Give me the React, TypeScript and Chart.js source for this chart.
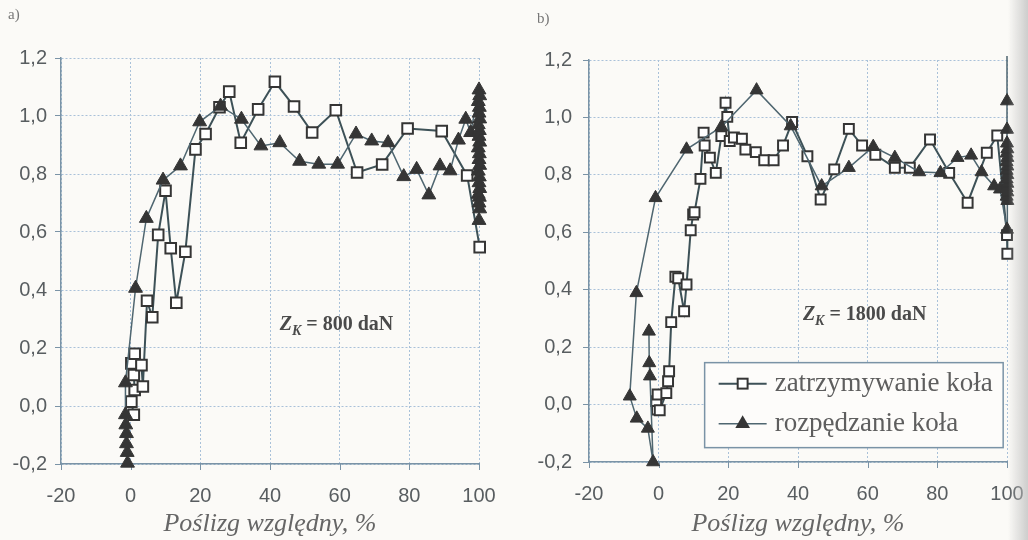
import React, { useEffect, useRef } from "react";
import { Chart, registerables } from "chart.js";

Chart.register(...registerables);

// ---------- shared axis data ----------
const X_TICKS = [-20, 0, 20, 40, 60, 80, 100];
const Y_TICKS = [-0.2, 0, 0.2, 0.4, 0.6, 0.8, 1.0, 1.2];
const X_TITLE = "Poślizg względny, %";
const SERIES_NAMES = ["zatrzymywanie koła", "rozpędzanie koła"];
const PANEL_LABELS = ["a)", "b)"];
const LOAD_TEXT = ["= 800 daN", "= 1800 daN"];

// ---------- panel a) Z_K = 800 daN ----------
// zatrzymywanie koła (open squares)
const aBrakeX = [0.9, 0.2, 1.15, 0.9, 0.2, 1.15, 3.1, 3.5, 4.7, 6.2, 7.9, 10.0, 11.5, 13.1, 15.7, 18.6, 21.5, 25.5, 28.3, 31.6, 36.6, 41.4, 46.9, 52.1, 58.9, 65.0, 72.2, 79.5, 89.3, 96.6, 100.2];
const aBrakeY = [-0.03, 0.015, 0.055, 0.107, 0.147, 0.18, 0.141, 0.067, 0.363, 0.306, 0.59, 0.742, 0.544, 0.356, 0.532, 0.885, 0.938, 1.03, 1.084, 0.908, 1.023, 1.118, 1.033, 0.943, 1.02, 0.805, 0.833, 0.957, 0.948, 0.795, 0.548];
// rozpędzanie koła (filled triangles)
const aSpinX = [-0.9, -1.0, -1.2, -1.2, -1.4, -1.5, -1.5, 1.4, 4.5, 9.3, 14.3, 19.8, 25.8, 31.8, 37.4, 42.8, 48.5, 54.0, 59.4, 64.7, 69.2, 73.9, 78.4, 82.1, 85.6, 88.8, 91.7, 94.1, 96.2, 97.6,
  100.0, 100.2, 99.8, 100.1, 100.0, 100.2, 99.8, 100.1, 100.0, 100.2, 99.8, 100.1, 100.0, 100.2, 99.8, 100.1, 100.0, 100.2, 99.8, 100.1, 100.0, 100.2, 100.0];
const aSpinY = [-0.197, -0.16, -0.13, -0.095, -0.065, -0.03, 0.08, 0.406, 0.647, 0.779, 0.828, 0.98, 1.034, 0.989, 0.897, 0.908, 0.844, 0.834, 0.834, 0.938, 0.914, 0.908, 0.791, 0.816, 0.728, 0.828, 0.811, 0.917, 0.989, 0.943,
  1.09, 1.07, 1.05, 1.03, 1.01, 0.99, 0.97, 0.95, 0.93, 0.91, 0.89, 0.87, 0.85, 0.83, 0.81, 0.79, 0.77, 0.75, 0.73, 0.72, 0.7, 0.68, 0.64];

// ---------- panel b) Z_K = 1800 daN ----------
const bBrakeX = [-0.5, -0.7, -0.3, 0.3, 2.2, 2.7, 3.0, 3.6, 4.8, 5.6, 7.3, 8.0, 9.2, 9.9, 10.3, 12.0, 12.9, 13.2, 14.7, 16.4, 18.0, 19.2, 19.7, 20.4, 21.6, 23.9, 24.9, 27.9, 30.3, 33.0, 35.7, 38.3, 42.7, 46.5, 50.4, 54.6, 58.4, 62.2, 67.8, 72.1, 77.9, 83.4, 88.7, 94.2, 97.2, 100.0, 100.1];
const bBrakeY = [-0.017, 0.012, 0.035, -0.02, 0.04, 0.081, 0.116, 0.287, 0.445, 0.44, 0.325, 0.418, 0.607, 0.662, 0.67, 0.786, 0.947, 0.902, 0.86, 0.807, 0.935, 1.051, 1.002, 0.918, 0.93, 0.926, 0.888, 0.879, 0.851, 0.851, 0.902, 0.984, 0.865, 0.714, 0.819, 0.96, 0.902, 0.87, 0.825, 0.825, 0.923, 0.807, 0.703, 0.877, 0.937, 0.59, 0.525];
const bSpinX = [-2.8, -2.7, -2.5, -1.6, -3.1, -6.3, -8.3, -6.4, -0.9, 8.0, 18.0, 28.1, 37.9, 46.8, 54.6, 61.6, 67.8, 74.8, 80.9, 85.8, 89.7, 92.7, 96.3, 98.0,
  100.0, 100.1, 99.9, 100.1, 99.9, 100.1, 99.9, 100.1, 99.9, 100.1, 99.9, 100.1, 99.9, 100.1, 100.0, 100.0, 100.0, 100.0];
const bSpinY = [0.255, 0.145, 0.099, -0.2, -0.083, -0.048, 0.029, 0.389, 0.72, 0.889, 0.967, 1.095, 0.97, 0.761, 0.825, 0.898, 0.86, 0.81, 0.807, 0.86, 0.868, 0.81, 0.761, 0.75,
  0.61, 0.71, 0.725, 0.74, 0.755, 0.77, 0.785, 0.8, 0.815, 0.83, 0.845, 0.86, 0.875, 0.89, 0.91, 0.958, 1.057, 1.3];

// ---------- styles ----------
const BRAKE_LINE = "#3d5157";
const SPIN_LINE = "#4f6670";
const MARK_DARK = "#353535";
const GRID = "#a9c1d9";
const AXIS = "#7a93a6";
const TICK_TEXT = "#585d60";
const TEXT = "#5e5e5e";

const toPts = (xs: number[], ys: number[]) => xs.map((x, i) => ({ x, y: ys[i] }));

type Panel = {
  idx: number;
  brake: { x: number; y: number }[];
  spin: { x: number; y: number }[];
  pad: { left: number; right: number; top: number };
  yAxisW: number;
  xAxisH: number;
  yTickPad: number;
  sqR: number;
  triR: number;
  annot: { x: number; y: number };
  legend?: { x0: number; x1: number; y0: number; y1: number };
  labelPos: { x: number; y: number };
};

const panels: Panel[] = [
  {
    idx: 0,
    brake: toPts(aBrakeX, aBrakeY),
    spin: toPts(aSpinX, aSpinY),
    pad: { left: 0, right: 35, top: 58 },
    yAxisW: 61,
    xAxisH: 76,
    yTickPad: 8,
    sqR: 7.5,
    triR: 8,
    annot: { x: 42.8, y: 0.262 },
    labelPos: { x: 8, y: 15 },
  },
  {
    idx: 1,
    brake: toPts(bBrakeX, bBrakeY),
    spin: toPts(bSpinX, bSpinY),
    pad: { left: 0, right: 21, top: 60 },
    yAxisW: 75,
    xAxisH: 78,
    yTickPad: 11,
    sqR: 7,
    triR: 7.5,
    annot: { x: 41.4, y: 0.296 },
    legend: { x0: 13.2, x1: 98.9, y0: 0.146, y1: -0.15 },
    labelPos: { x: 23, y: 19 },
  },
];

function drawTri(ctx: CanvasRenderingContext2D, x: number, y: number, r: number) {
  ctx.beginPath();
  ctx.moveTo(x, y - r);
  ctx.lineTo(x + r * 0.866, y + r * 0.5);
  ctx.lineTo(x - r * 0.866, y + r * 0.5);
  ctx.closePath();
  ctx.fillStyle = MARK_DARK;
  ctx.fill();
}

function makeDecor(p: Panel) {
  return {
    id: "decor" + p.idx,
    beforeDatasetsDraw(chart: any) {
      const ctx: CanvasRenderingContext2D = chart.ctx;
      const xs = chart.scales.x;
      const bottom = chart.chartArea.bottom;
      ctx.save();
      ctx.strokeStyle = AXIS;
      ctx.lineWidth = 1;
      X_TICKS.forEach((v) => {
        const px = Math.round(xs.getPixelForValue(v)) + 0.5;
        ctx.beginPath();
        ctx.moveTo(px, bottom);
        ctx.lineTo(px, bottom + 6);
        ctx.stroke();
      });
      ctx.restore();
    },
    afterDatasetsDraw(chart: any) {
      const ctx: CanvasRenderingContext2D = chart.ctx;
      const xs = chart.scales.x;
      const ys = chart.scales.y;
      // annotation Z_K = ... daN
      ctx.save();
      const ax = xs.getPixelForValue(p.annot.x);
      const ay = ys.getPixelForValue(p.annot.y);
      ctx.fillStyle = "#4a4a4a";
      ctx.textBaseline = "alphabetic";
      ctx.textAlign = "left";
      ctx.font = 'bold italic 20px "Liberation Serif"';
      ctx.fillText("Z", ax, ay);
      let cx = ax + ctx.measureText("Z").width;
      ctx.font = 'bold italic 14px "Liberation Serif"';
      ctx.fillText("K", cx, ay + 5);
      cx += ctx.measureText("K").width + 5;
      ctx.font = 'bold 20px "Liberation Serif"';
      ctx.fillText(LOAD_TEXT[p.idx], cx, ay);
      ctx.restore();

      // panel label
      ctx.save();
      ctx.fillStyle = "#777";
      ctx.font = '15px "Liberation Serif"';
      ctx.textBaseline = "middle";
      ctx.fillText(PANEL_LABELS[p.idx], p.labelPos.x, p.labelPos.y);
      ctx.restore();

      if (p.legend) {
        const L = xs.getPixelForValue(p.legend.x0);
        const R = xs.getPixelForValue(p.legend.x1);
        const T = ys.getPixelForValue(p.legend.y0);
        const B = ys.getPixelForValue(p.legend.y1);
        ctx.save();
        ctx.fillStyle = "#fdfcfa";
        ctx.fillRect(L, T, R - L, B - T);
        ctx.strokeStyle = AXIS;
        ctx.lineWidth = 1.5;
        ctx.strokeRect(L, T, R - L, B - T);
        const rows = [T + 21, T + 61];
        rows.forEach((ry, i) => {
          ctx.beginPath();
          ctx.moveTo(L + 14, ry);
          ctx.lineTo(L + 62, ry);
          ctx.strokeStyle = i === 0 ? BRAKE_LINE : SPIN_LINE;
          ctx.lineWidth = i === 0 ? 2 : 1.5;
          ctx.stroke();
          const mx = L + 38;
          if (i === 0) {
            const s = p.sqR * Math.SQRT1_2;
            ctx.fillStyle = "#fff";
            ctx.fillRect(mx - s, ry - s, 2 * s, 2 * s);
            ctx.strokeStyle = MARK_DARK;
            ctx.lineWidth = 2;
            ctx.strokeRect(mx - s, ry - s, 2 * s, 2 * s);
          } else {
            drawTri(ctx, mx, ry, p.triR + 1);
          }
          ctx.fillStyle = TEXT;
          ctx.font = '27px "Liberation Serif"';
          ctx.textBaseline = "middle";
          ctx.textAlign = "left";
          ctx.fillText(SERIES_NAMES[i], L + 70, ry);
        });
        ctx.restore();
      }
    },
  };
}

function buildConfig(p: Panel): any {
  const clip = { left: 12, right: 12, top: 4, bottom: 12 };
  return {
    type: "line",
    data: {
      datasets: [
        {
          label: SERIES_NAMES[1],
          data: p.spin,
          borderColor: SPIN_LINE,
          borderWidth: 1.5,
          pointStyle: "triangle",
          pointRadius: p.triR,
          pointBackgroundColor: MARK_DARK,
          pointBorderColor: MARK_DARK,
          pointBorderWidth: 1,
          tension: 0,
          fill: false,
          clip,
        },
        {
          label: SERIES_NAMES[0],
          data: p.brake,
          borderColor: BRAKE_LINE,
          borderWidth: 2,
          pointStyle: "rect",
          pointRadius: p.sqR,
          pointBackgroundColor: "#ffffff",
          pointBorderColor: MARK_DARK,
          pointBorderWidth: 2,
          tension: 0,
          fill: false,
          clip,
        },
      ],
    },
    options: {
      responsive: false,
      animation: false,
      devicePixelRatio: 1,
      layout: { padding: { left: p.pad.left, right: p.pad.right, top: p.pad.top, bottom: 0 } },
      plugins: { legend: { display: false }, tooltip: { enabled: false }, title: { display: false } },
      scales: {
        x: {
          type: "linear",
          min: -20,
          max: 100,
          afterBuildTicks: (s: any) => {
            s.ticks = X_TICKS.map((v) => ({ value: v }));
          },
          afterFit: (s: any) => {
            s.height = p.xAxisH;
          },
          ticks: {
            callback: (v: any) => String(v),
            color: TICK_TEXT,
            font: { family: '"Liberation Sans", Arial, sans-serif', size: 20 },
            padding: 2,
            maxRotation: 0,
            autoSkip: false,
          },
          grid: { color: GRID, lineWidth: 1, tickLength: 18, tickColor: "rgba(0,0,0,0)" },
          border: { display: true, color: AXIS, width: 1.5, dash: [2, 2] },
          title: {
            display: true,
            text: X_TITLE,
            color: "#666",
            font: { family: '"Liberation Serif", serif', size: 26, style: "italic" },
            padding: { top: 0, bottom: 0 },
          },
        },
        y: {
          type: "linear",
          min: -0.2,
          max: 1.2,
          afterBuildTicks: (s: any) => {
            s.ticks = Y_TICKS.map((v) => ({ value: v }));
          },
          afterFit: (s: any) => {
            s.width = p.yAxisW;
          },
          ticks: {
            callback: (v: any) => Number(v).toFixed(1).replace(".", ","),
            color: TICK_TEXT,
            font: { family: '"Liberation Sans", Arial, sans-serif', size: 20 },
            padding: p.yTickPad,
            autoSkip: false,
          },
          grid: { color: GRID, lineWidth: 1, tickLength: 6, tickColor: AXIS },
          border: { display: true, color: AXIS, width: 1.5, dash: [2, 2] },
        },
      },
    },
    plugins: [makeDecor(p)],
  };
}

function PanelChart({ p, left }: { p: Panel; left: number }) {
  const ref = useRef<HTMLCanvasElement | null>(null);
  useEffect(() => {
    if (!ref.current) return;
    const chart = new Chart(ref.current, buildConfig(p));
    return () => chart.destroy();
  }, [p]);
  return (
    <canvas
      ref={ref}
      width={514}
      height={540}
      style={{ position: "absolute", left, top: 0, width: 514, height: 540 }}
    />
  );
}

export default function App() {
  return (
    <div
      style={{
        position: "absolute",
        left: 0,
        top: 0,
        width: 1028,
        height: 540,
        background: "#fbfaf7",
        overflow: "hidden",
      }}
    >
      <PanelChart p={panels[0]} left={0} />
      <PanelChart p={panels[1]} left={514} />
      <div
        style={{
          position: "absolute",
          left: 1008,
          top: 0,
          width: 20,
          height: 540,
          pointerEvents: "none",
          background: "linear-gradient(to right, rgba(210,210,210,0), rgba(190,190,190,0.75))",
        }}
      />
    </div>
  );
}
